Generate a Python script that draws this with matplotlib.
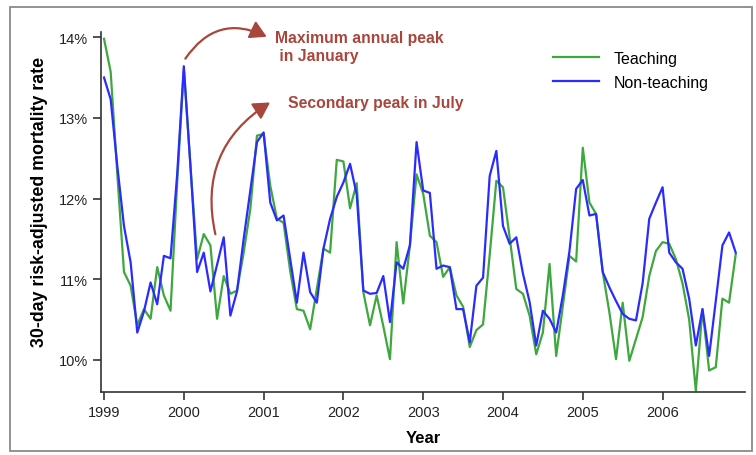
import numpy as np
import matplotlib.pyplot as plt
from matplotlib.patches import FancyArrowPatch, Rectangle
from matplotlib.ticker import PercentFormatter

# --- Données : taux de mortalité à 30 jours (%), mensuel, janv. 1999 -> déc. 2006 ---
start_year = 1999
teaching = [
    13.98, 13.57, 12.30, 11.09, 10.92, 10.43, 10.63, 10.51, 11.15, 10.80, 10.61, 12.20,
    13.60, 12.40, 11.25, 11.56, 11.42, 10.51, 11.04, 10.82, 10.86, 11.33, 11.87, 12.78,
    12.80, 12.16, 11.75, 11.70, 11.10, 10.63, 10.61, 10.38, 10.88, 11.38, 11.33, 12.48,
    12.46, 11.88, 12.19, 10.84, 10.43, 10.80, 10.42, 10.01, 11.46, 10.70, 11.42, 12.30,
    12.06, 11.54, 11.46, 11.03, 11.15, 10.80, 10.66, 10.16, 10.37, 10.44, 11.30, 12.22,
    12.14, 11.52, 10.88, 10.82, 10.55, 10.07, 10.34, 11.19, 10.05, 10.67, 11.29, 11.22,
    12.63, 11.95, 11.81, 11.09, 10.59, 10.01, 10.71, 9.99, 10.26, 10.53, 11.04, 11.35,
    11.46, 11.44, 11.25, 10.95, 10.50, 9.62, 10.63, 9.87, 9.91, 10.76, 10.71, 11.31,
]
non_teaching = [
    13.50, 13.23, 12.40, 11.66, 11.21, 10.34, 10.60, 10.96, 10.69, 11.29, 11.26, 12.30,
    13.64, 12.40, 11.09, 11.33, 10.85, 11.18, 11.52, 10.55, 10.85, 11.50, 12.10, 12.70,
    12.82, 11.95, 11.73, 11.79, 11.25, 10.71, 11.33, 10.84, 10.71, 11.38, 11.75, 12.02,
    12.20, 12.43, 12.05, 10.86, 10.82, 10.83, 11.04, 10.47, 11.21, 11.13, 11.42, 12.70,
    12.10, 12.07, 11.13, 11.17, 11.15, 10.63, 10.63, 10.22, 10.92, 11.02, 12.28, 12.59,
    11.66, 11.44, 11.52, 11.07, 10.72, 10.18, 10.61, 10.51, 10.34, 10.80, 11.35, 12.12,
    12.23, 11.79, 11.81, 11.09, 10.90, 10.73, 10.57, 10.51, 10.49, 10.95, 11.75, 11.95,
    12.14, 11.33, 11.21, 11.13, 10.76, 10.18, 10.63, 10.05, 10.73, 11.42, 11.58, 11.33,
]
years = list(range(1999, 2007))
pct_ticks = [10, 11, 12, 13, 14]

t = start_year + np.arange(len(teaching)) / 12

plt.rcParams['font.family'] = ['Liberation Sans', 'DejaVu Sans']
ARROW = '#a8463c'

fig = plt.figure(figsize=(7.56, 4.56), dpi=100)
ax = fig.add_axes([101 / 756, 63 / 456, 644 / 756, 360 / 456])

ax.plot(t, teaching, color='#3ea83e', lw=1.6, label='Teaching')
ax.plot(t, non_teaching, color='#2b2bff', lw=1.6, label='Non-teaching')

ax.set_xlim(1998.962, 2007.033)
ax.set_ylim(9.603, 14.064)
ax.set_xticks(years)
ax.set_yticks(pct_ticks)
ax.yaxis.set_major_formatter(PercentFormatter(decimals=0))
ax.tick_params(direction='out', length=6, width=1.2, color='#333333',
               labelsize=10.5, labelcolor='#222222')
for s in ['top', 'right']:
    ax.spines[s].set_visible(False)
for s in ['left', 'bottom']:
    ax.spines[s].set_linewidth(1.2)
    ax.spines[s].set_color('#333333')

ax.set_xlabel('Year', fontsize=12, fontweight='bold', labelpad=8)
ax.set_ylabel('30-day risk-adjusted mortality rate', fontsize=12.8,
              fontweight='bold')
ax.yaxis.set_label_coords(-0.083, 0.53)

ax.legend(loc='upper left', bbox_to_anchor=(553 / 756, 1 - 52 / 456),
          bbox_transform=fig.transFigure, frameon=False, fontsize=11.5,
          handlelength=2.9, handletextpad=0.9, labelspacing=0.55,
          borderpad=0, borderaxespad=0)

# Flèches d'annotation
a1 = FancyArrowPatch((2000.0, 13.705), (2001.07, 13.99),
                     connectionstyle='arc3,rad=-0.45',
                     arrowstyle='-|>,head_length=0.7,head_width=0.4',
                     mutation_scale=14, color=ARROW, lw=1.6, clip_on=False)
a2 = FancyArrowPatch((2000.403, 11.524), (2001.11, 13.209),
                     connectionstyle='arc3,rad=-0.36',
                     arrowstyle='-|>,head_length=0.7,head_width=0.4',
                     mutation_scale=14, color=ARROW, lw=1.6, clip_on=False)
ax.add_patch(a1)
ax.add_patch(a2)

ax.text(2001.142, 14.0, 'Maximum annual peak', color=ARROW, fontsize=11.3,
        fontweight='bold', va='center', ha='left')
ax.text(2001.142, 13.775, ' in January', color=ARROW, fontsize=11.3,
        fontweight='bold', va='center', ha='left')
ax.text(2001.305, 13.195, 'Secondary peak in July', color=ARROW, fontsize=11.3,
        fontweight='bold', va='center', ha='left')

# Cadre autour de la figure
fig.patches.append(Rectangle((10 / 756, 4 / 456), 742 / 756, 444 / 456,
                             transform=fig.transFigure, fill=False,
                             edgecolor='#8a8a8a', lw=1.3))

plt.savefig('out.png', dpi=100)
